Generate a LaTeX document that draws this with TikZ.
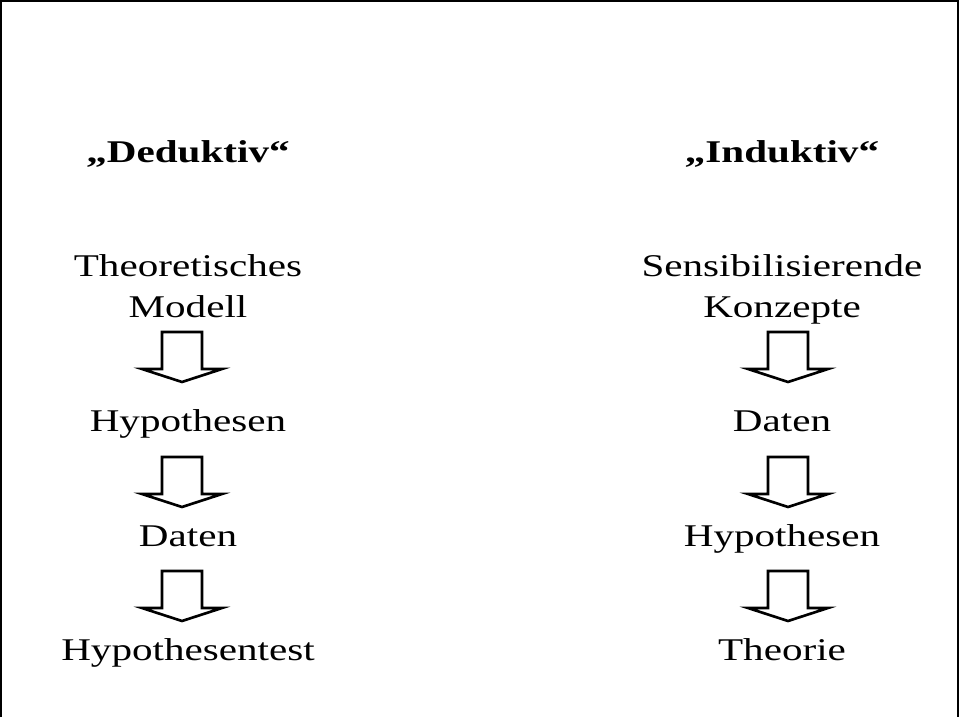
\documentclass[tikz,border=0pt]{standalone}
\usepackage{fontspec}
\setmainfont{Liberation Serif}
\usetikzlibrary{calc}
\tikzset{
	lbl/.style={anchor=base, inner sep=0pt, xscale=1.3, font=\fontsize{18}{22}\selectfont},
	ttl/.style={lbl, font=\fontsize{18}{22}\selectfont\bfseries},
	blockarrow/.pic={\draw[line width=1.5pt, line join=miter, fill=white]
		(-20,0) -- (20,0) -- (20,37) -- (40,37) -- (0,50) -- (-40,37) -- (-20,37) -- cycle;}
}
\begin{document}
\begin{tikzpicture}[x=0.02cm, y=-0.02cm, line cap=butt]
	\useasboundingbox (0,0) rectangle (959,717);
	\def\xl{188} \def\xr{782}
	\draw[line width=1.3pt] (1,717) -- (1,1) -- (958,1) -- (958,717);
	% deduktiv
	\node[ttl] (ded) at (\xl,162) {„Deduktiv“};
	\node[lbl] (dthe) at (\xl,276) {Theoretisches};
	\node[lbl] (dmod) at (\xl,317) {Modell};
	\node[lbl] (dhyp) at (\xl,431) {Hypothesen};
	\node[lbl] (ddat) at (\xl,546) {Daten};
	\node[lbl] (dtest) at (\xl,660) {Hypothesentest};
	% induktiv
	\node[ttl] (ind) at (\xr,162) {„Induktiv“};
	\node[lbl] (isen) at (\xr,276) {Sensibilisierende};
	\node[lbl] (ikon) at (\xr,317) {Konzepte};
	\node[lbl] (idat) at (\xr,431) {Daten};
	\node[lbl] (ihyp) at (\xr,546) {Hypothesen};
	\node[lbl] (ithe) at (\xr,660) {Theorie};
	% pfeile
	\pic at ($(dmod.base)+(-6,15)$) {blockarrow};
	\pic at ($(dhyp.base)+(-6,26)$) {blockarrow};
	\pic at ($(ddat.base)+(-6,25)$) {blockarrow};
	\pic at ($(ikon.base)+(6,15)$) {blockarrow};
	\pic at ($(idat.base)+(6,26)$) {blockarrow};
	\pic at ($(ihyp.base)+(6,25)$) {blockarrow};
\end{tikzpicture}
\end{document}
